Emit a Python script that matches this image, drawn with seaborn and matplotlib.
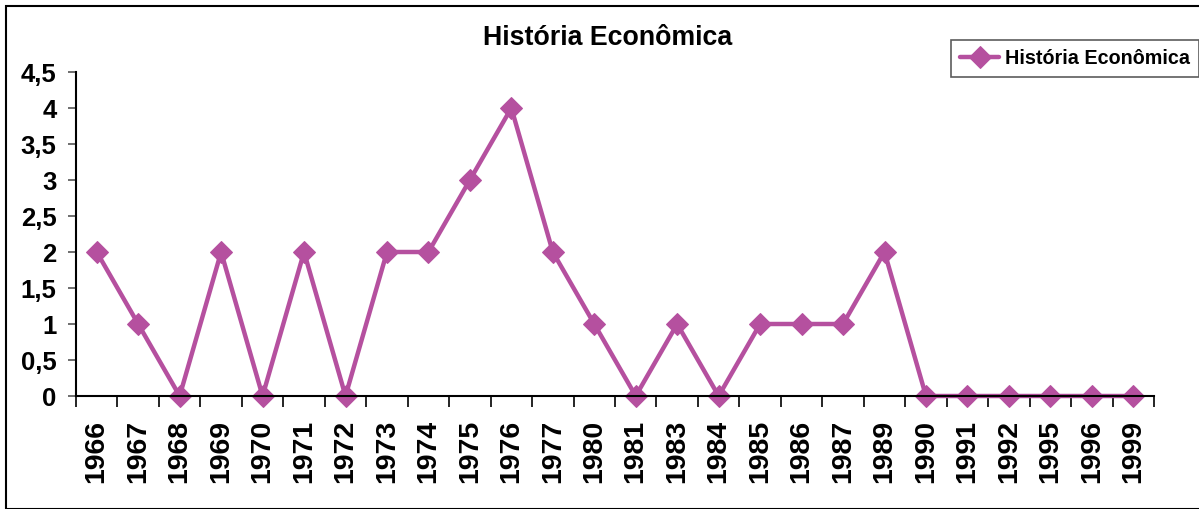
import matplotlib
matplotlib.use("Agg")
import matplotlib.pyplot as plt
import seaborn as sns
import pandas as pd
from matplotlib.ticker import FuncFormatter, FixedLocator
from matplotlib.patches import Rectangle

years = ["1966", "1967", "1968", "1969", "1970", "1971", "1972", "1973", "1974",
         "1975", "1976", "1977", "1980", "1981", "1983", "1984", "1985", "1986",
         "1987", "1989", "1990", "1991", "1992", "1995", "1996", "1999"]
values = [2, 1, 0, 2, 0, 2, 0, 2, 2, 3, 4, 2, 1, 0, 1, 0, 1, 1, 1, 2, 0, 0, 0, 0, 0, 0]
series_name = "História Econômica"
yticks = [0, 0.5, 1, 1.5, 2, 2.5, 3, 3.5, 4, 4.5]

sns.set_style("white")
plt.rcParams['font.family'] = ['Liberation Sans', 'DejaVu Sans']
plt.rcParams['text.color'] = 'black'
plt.rcParams['xtick.color'] = 'black'
plt.rcParams['ytick.color'] = 'black'

df = pd.DataFrame({"pos": range(len(years)), "value": values, "serie": series_name})
color = "#B5509F"

fig = plt.figure(figsize=(11.99, 5.09), dpi=100)
ax = fig.add_axes([76/1199, 1 - 396/509, (1154-76)/1199, (396-72)/509])

sns.lineplot(data=df, x="pos", y="value", ax=ax, color=color, linewidth=3.2,
             marker="D", markersize=11, markeredgecolor=color, label=series_name)
for ln in ax.lines:
    ln.set_clip_on(False)

ax.set_xlim(-0.5, len(years) - 0.5)
ax.set_ylim(0, 4.5)
ax.set_xticks(range(len(years)))
ax.set_xticklabels(years, rotation=90, fontsize=20.5, fontweight="bold", color="black")
ax.xaxis.set_minor_locator(FixedLocator([i - 0.5 for i in range(len(years) + 1)]))
ax.tick_params(axis="x", which="major", length=0, pad=17)
ax.tick_params(axis="x", which="minor", length=8, width=1.2, color="black", direction="out", bottom=True)
ax.set_yticks(yticks)
ax.yaxis.set_major_formatter(FuncFormatter(lambda v, p: (f"{v:g}").replace(".", ",")))
ax.tick_params(axis="y", length=6, width=1.2, color="#555555", direction="out", left=True,
               labelsize=18.5, pad=8, labelcolor="black")
for lbl in ax.get_yticklabels():
    lbl.set_fontweight("bold")
ax.set_xlabel("")
ax.set_ylabel("")
for s in ["top", "right"]:
    ax.spines[s].set_visible(False)
for s in ["left", "bottom"]:
    ax.spines[s].set_color("black")
    ax.spines[s].set_linewidth(1.5)

fig.text(608/1199, 1 - 38/509, series_name, ha="center", va="center",
         fontsize=19.3, fontweight="bold", color="black")

leg = ax.legend(loc="upper left", bbox_to_anchor=(951/1199, 1 - 40/509),
                bbox_transform=fig.transFigure, frameon=True, fancybox=False,
                prop={"size": 14.2, "weight": "bold"}, handlelength=2.0,
                borderpad=0.45, handletextpad=0.3, borderaxespad=0)
leg.get_frame().set_edgecolor("#333333")
leg.get_frame().set_linewidth(1.2)
for t in leg.get_texts():
    t.set_color("black")

fig.patches.append(Rectangle((6/1199, 0), 1.2, 1 - 6/509, transform=fig.transFigure,
                             fill=False, edgecolor="black", linewidth=1.5))

fig.savefig("out.png", dpi=100)
